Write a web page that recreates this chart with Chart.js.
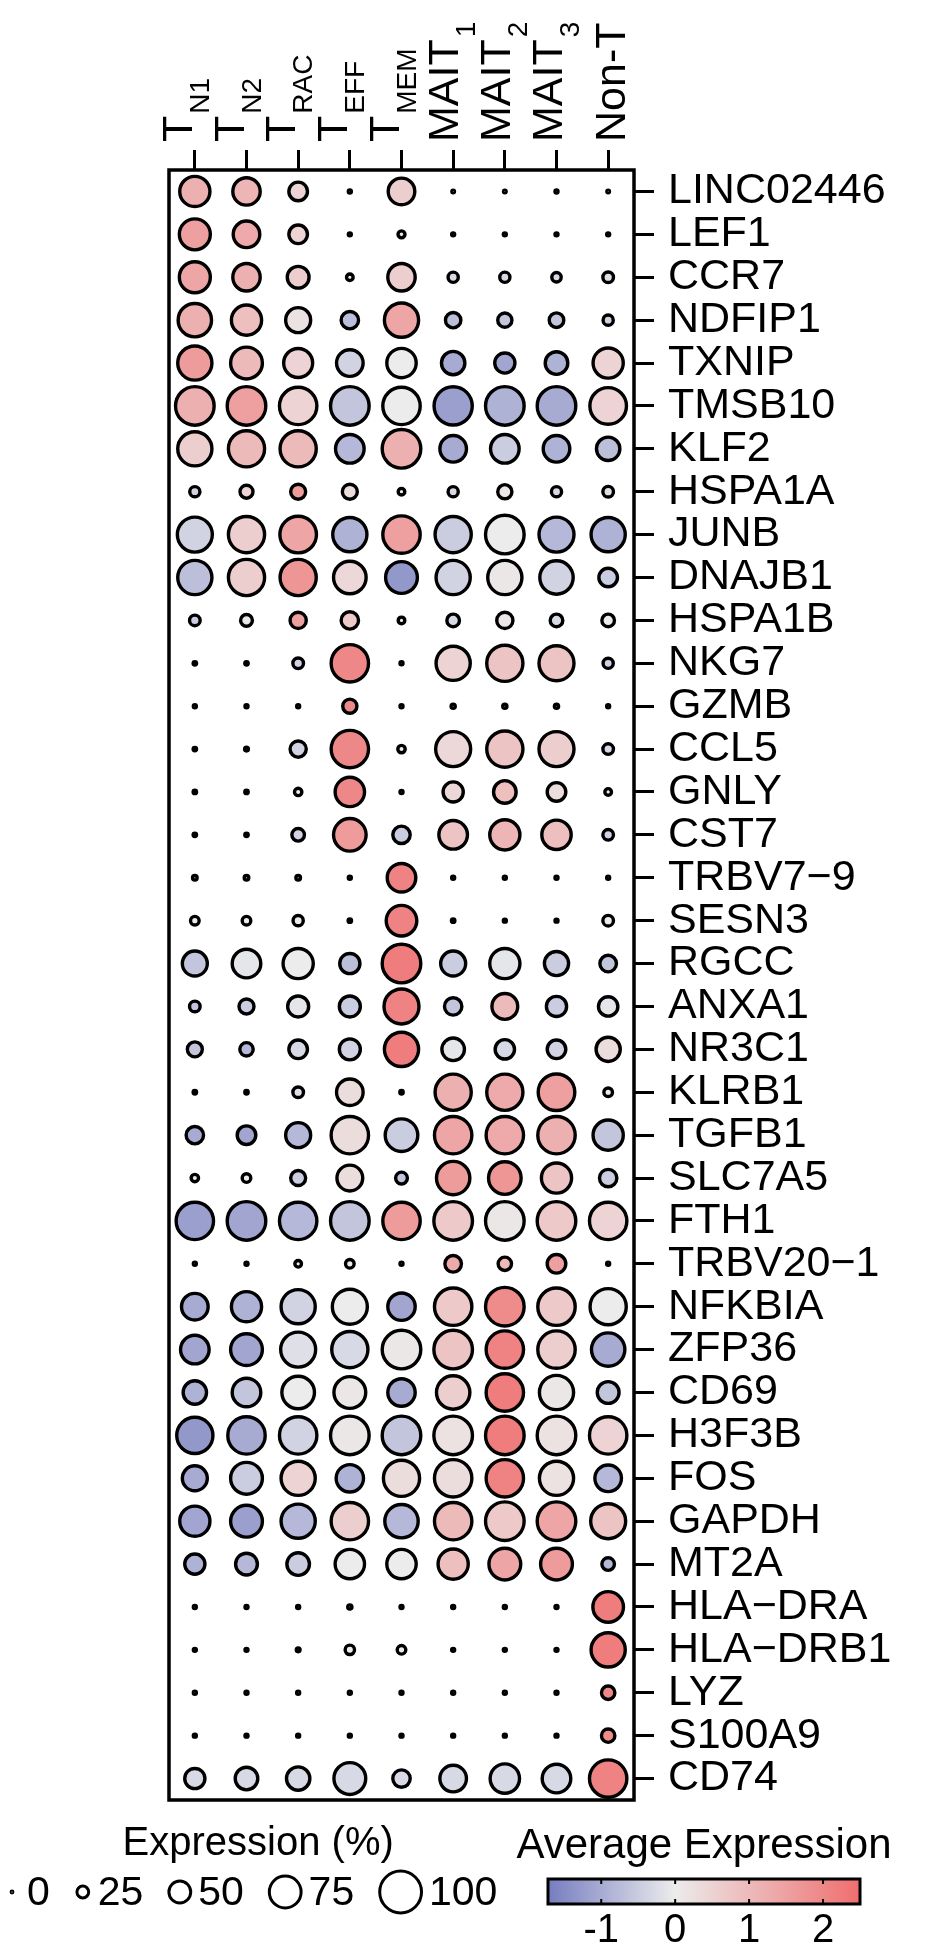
<!DOCTYPE html>
<html>
<head>
<meta charset="utf-8">
<script src="https://cdn.jsdelivr.net/npm/chart.js@4"></script>
<style>
  html, body { margin: 0; padding: 0; background: #fff; }
  #wrap { width: 944px; height: 1957px; }
</style>
</head>
<body>
<div id="wrap"><canvas id="dot-chart" width="944" height="1957"></canvas></div>
<script>
// clusters (x) and genes (y)
const clusters = ['TN1', 'TN2', 'TRAC', 'TEFF', 'TMEM', 'MAIT1', 'MAIT2', 'MAIT3', 'Non-T'];
const clusterMain = ['T', 'T', 'T', 'T', 'T', 'MAIT', 'MAIT', 'MAIT', 'Non-T'];
const clusterSub = ['N1', 'N2', 'RAC', 'EFF', 'MEM', '1', '2', '3', ''];
const genes = ['LINC02446', 'LEF1', 'CCR7', 'NDFIP1', 'TXNIP', 'TMSB10', 'KLF2', 'HSPA1A', 'JUNB', 'DNAJB1',
  'HSPA1B', 'NKG7', 'GZMB', 'CCL5', 'GNLY', 'CST7', 'TRBV7\u22129', 'SESN3', 'RGCC', 'ANXA1', 'NR3C1',
  'KLRB1', 'TGFB1', 'SLC7A5', 'FTH1', 'TRBV20\u22121', 'NFKBIA', 'ZFP36', 'CD69', 'H3F3B', 'FOS',
  'GAPDH', 'MT2A', 'HLA\u2212DRA', 'HLA\u2212DRB1', 'LYZ', 'S100A9', 'CD74'];

// percent of cells expressing, one row per gene, columns in cluster order
const pctExpressed = [
  [71, 64, 42, 3, 62, 2, 2, 3, 2],
  [73, 62, 42, 3, 13, 3, 3, 3, 3],
  [73, 64, 50, 12, 64, 21, 21, 19, 22],
  [79, 71, 58, 39, 81, 34, 31, 32, 21],
  [81, 75, 68, 62, 69, 54, 46, 52, 71],
  [92, 92, 89, 92, 89, 91, 92, 92, 87],
  [81, 86, 86, 67, 92, 62, 67, 62, 54],
  [21, 28, 33, 33, 12, 21, 31, 21, 22],
  [83, 86, 87, 81, 89, 86, 92, 83, 81],
  [81, 86, 86, 77, 75, 81, 81, 79, 42],
  [22, 25, 36, 39, 12, 27, 36, 27, 27],
  [4, 4, 22, 89, 3, 81, 86, 83, 21],
  [3, 3, 3, 31, 3, 6, 6, 6, 3],
  [4, 5, 36, 89, 14, 83, 86, 83, 22],
  [4, 4, 14, 69, 3, 46, 52, 42, 12],
  [4, 4, 27, 77, 39, 67, 71, 69, 22],
  [7, 7, 7, 3, 67, 3, 3, 3, 3],
  [17, 17, 21, 4, 72, 4, 3, 3, 22],
  [58, 67, 71, 46, 92, 58, 71, 56, 37],
  [22, 33, 48, 48, 83, 39, 60, 46, 44],
  [33, 29, 42, 48, 81, 52, 44, 42, 56],
  [4, 4, 22, 62, 4, 86, 86, 87, 17],
  [39, 42, 58, 89, 77, 89, 89, 89, 71],
  [14, 17, 33, 60, 25, 79, 77, 71, 39],
  [89, 92, 89, 92, 89, 92, 92, 92, 89],
  [3, 3, 12, 17, 3, 37, 29, 42, 3],
  [62, 71, 81, 83, 64, 89, 92, 89, 86],
  [67, 75, 83, 86, 92, 92, 89, 89, 79],
  [54, 67, 77, 75, 64, 79, 89, 81, 50],
  [86, 89, 89, 92, 92, 92, 92, 92, 89],
  [58, 75, 81, 64, 86, 89, 89, 81, 62],
  [71, 75, 81, 89, 79, 89, 92, 92, 83],
  [46, 50, 52, 69, 69, 71, 75, 75, 27],
  [3, 3, 3, 6, 3, 3, 3, 3, 72],
  [3, 3, 5, 19, 17, 3, 3, 3, 81],
  [3, 3, 3, 3, 3, 3, 3, 3, 29],
  [3, 3, 3, 3, 3, 3, 3, 3, 29],
  [46, 52, 54, 75, 39, 62, 69, 67, 89]
];

// scaled average expression, same layout
const avgExpression = [
  [1.2, 1.1, 0.5, 0, 0.6, 0, 0, 0, 0],
  [1.5, 1.3, 0.5, 0, 0.2, 0, 0, 0, 0],
  [1.4, 1.2, 0.6, 0, 0.6, -0.3, -0.3, -0.3, -0.2],
  [1.2, 0.9, 0.2, -0.7, 1.4, -0.7, -0.6, -0.6, -0.4],
  [1.6, 1.0, 0.5, -0.4, 0.0, -1.0, -1.1, -0.9, 0.5],
  [1.2, 1.5, 0.5, -0.6, 0.0, -1.2, -0.9, -1.0, 0.5],
  [0.6, 1.0, 1.0, -0.8, 1.2, -1.0, -0.5, -0.9, -0.7],
  [-0.4, 0.5, 1.6, 0.3, 0, -0.3, 0.1, -0.3, -0.2],
  [-0.4, 0.6, 1.4, -0.9, 1.5, -0.5, 0.0, -0.8, -0.9],
  [-0.7, 0.6, 1.7, 0.4, -1.3, -0.4, 0.1, -0.4, -0.5],
  [-0.5, 0.1, 1.5, 0.7, 0, -0.3, 0.1, -0.3, 0.0],
  [0, 0, -0.4, 2.0, 0, 0.5, 0.8, 0.8, -0.4],
  [0, 0, 0, 2.0, 0, 0, 0, 0, 0],
  [0, 0, -0.4, 2.0, 0, 0.4, 0.8, 0.6, -0.3],
  [0, 0, 0, 2.0, 0, 0.4, 0.9, 0.3, 0],
  [0, 0, -0.4, 1.6, -0.5, 0.8, 1.1, 0.9, -0.4],
  [0, 0, 0, 0, 2.1, 0, 0, 0, 0],
  [0, 0, 0, 0, 2.1, 0, 0, 0, 0],
  [-0.6, -0.1, 0.0, -0.7, 2.2, -0.5, -0.1, -0.5, -0.6],
  [-0.6, -0.5, -0.1, -0.5, 2.1, -0.6, 1.0, -0.5, -0.1],
  [-0.6, -0.8, -0.3, -0.4, 2.2, -0.1, -0.3, -0.4, 0.3],
  [0, 0, -0.2, 0.3, 0, 1.2, 1.3, 1.5, 0],
  [-1.0, -1.1, -0.8, 0.3, -0.5, 1.4, 1.3, 1.2, -0.6],
  [0, 0, -0.5, 0.3, -0.6, 1.6, 1.7, 0.8, -0.5],
  [-1.2, -1.1, -0.8, -0.6, 1.6, 0.7, 0.1, 0.7, 0.5],
  [0, 0, 0, 0, 0, 1.3, 1.0, 1.5, 0],
  [-1.0, -0.9, -0.4, 0.0, -1.1, 0.7, 1.9, 0.7, 0.0],
  [-1.1, -1.1, -0.2, -0.3, 0.1, 0.8, 2.1, 0.6, -1.0],
  [-0.9, -0.6, 0.0, 0.1, -1.0, 0.6, 2.2, 0.1, -0.6],
  [-1.3, -1.0, -0.4, 0.1, -0.6, 0.2, 2.2, 0.2, 0.5],
  [-1.0, -0.5, 0.5, -0.9, 0.3, 0.3, 2.1, 0.2, -0.8],
  [-1.1, -1.2, -0.8, 0.6, -0.8, 1.0, 0.7, 1.4, 0.8],
  [-0.9, -0.8, -0.5, 0.0, 0.0, 0.9, 1.4, 1.6, -0.8],
  [0, 0, 0, 0, 0, 0, 0, 0, 2.2],
  [0, 0, 0, 0, 0, 0, 0, 0, 2.2],
  [0, 0, 0, 0, 0, 0, 0, 0, 2.0],
  [0, 0, 0, 0, 0, 0, 0, 0, 1.9],
  [-0.3, -0.3, -0.3, -0.3, -0.3, -0.3, -0.3, -0.3, 2.1]
];

const sizeBreaks = [0, 25, 50, 75, 100];
const colorTicks = [-1, 0, 1, 2];
const colorMin = -1.72, colorMax = 2.5;

const FONT = "'Liberation Sans', Arial, Helvetica, sans-serif";
const LOW = [118, 125, 192], MID = [236, 236, 236], HIGH = [239, 110, 110];

function radiusFor(p) { return 0.9 + 0.2 * p; }

function colorFor(v) {
  let b, t;
  if (v < 0) { b = LOW; t = Math.min(v / colorMin, 1); }
  else { b = HIGH; t = Math.min(v / colorMax, 1); }
  const c = MID.map((x, i) => Math.round(x + (b[i] - x) * t));
  return 'rgb(' + c.join(',') + ')';
}

const points = [];
genes.forEach((g, gi) => {
  clusters.forEach((c, ci) => {
    points.push({ x: c, y: g, r: radiusFor(pctExpressed[gi][ci]), v: avgExpression[gi][ci] });
  });
});

const extras = {
  id: 'extras',
  afterDraw(chart) {
    const ctx = chart.ctx;
    const ca = chart.chartArea;
    ctx.save();
    // panel border
    ctx.lineWidth = 3.5;
    ctx.strokeStyle = '#000';
    ctx.strokeRect(ca.left, ca.top, ca.right - ca.left, ca.bottom - ca.top);

    // rotated column labels with subscripts
    const xs = chart.scales.x;
    ctx.fillStyle = '#000';
    clusterMain.forEach((main, i) => {
      const px = xs.getPixelForValue(i);
      const sub = clusterSub[i];
      const shift = sub ? (main === 'T' ? -3 : 5) : 17;
      ctx.save();
      ctx.translate(px + shift, 142);
      ctx.rotate(-Math.PI / 2);
      ctx.textAlign = 'left';
      ctx.textBaseline = 'alphabetic';
      ctx.font = '43px ' + FONT;
      ctx.fillText(main, 0, 0);
      if (sub) {
        const w = ctx.measureText(main).width;
        ctx.font = '28px ' + FONT;
        ctx.fillText(sub, w + 2, 17);
      }
      ctx.restore();
    });

    // size legend
    ctx.font = '41px ' + FONT;
    ctx.textAlign = 'left';
    ctx.textBaseline = 'alphabetic';
    const start = 3, cy = 1892;
    let cursor = start;
    sizeBreaks.forEach(p => {
      const r = radiusFor(p);
      const half = Math.max(r + 1.5, 9);
      const cx = cursor + half;
      ctx.beginPath();
      ctx.arc(cx, cy, r, 0, Math.PI * 2);
      ctx.fillStyle = '#fff';
      ctx.fill();
      ctx.lineWidth = 3;
      ctx.strokeStyle = '#000';
      ctx.stroke();
      const tx = cx + half + 6;
      ctx.fillStyle = '#000';
      ctx.fillText(String(p), tx, 1905);
      cursor = tx + ctx.measureText(String(p)).width + 24;
    });
    const legendEnd = cursor - 24;
    ctx.font = '40px ' + FONT;
    ctx.textAlign = 'center';
    ctx.fillText('Expression (%)', (start + legendEnd) / 2 + 8, 1855);

    // colour bar
    const x0 = 548, x1 = 860, y0 = 1879, y1 = 1904;
    for (let x = x0; x < x1; x++) {
      const v = colorMin + (x + 0.5 - x0) / (x1 - x0) * (colorMax - colorMin);
      ctx.fillStyle = colorFor(v);
      ctx.fillRect(x, y0, 1, y1 - y0);
    }
    ctx.lineWidth = 3;
    ctx.strokeStyle = '#000';
    ctx.strokeRect(x0, y0, x1 - x0, y1 - y0);
    ctx.font = '40px ' + FONT;
    ctx.fillStyle = '#000';
    ctx.textAlign = 'center';
    colorTicks.forEach(v => {
      const x = x0 + (v - colorMin) / (colorMax - colorMin) * (x1 - x0);
      ctx.lineWidth = 2;
      ctx.beginPath();
      ctx.moveTo(x, y0); ctx.lineTo(x, y0 + 5);
      ctx.moveTo(x, y1); ctx.lineTo(x, y1 - 5);
      ctx.stroke();
      ctx.fillText(v < 0 ? '-' + Math.abs(v) : String(v), x, 1942);
    });
    ctx.font = '42px ' + FONT;
    ctx.fillText('Average Expression', (x0 + x1) / 2, 1858);
    ctx.restore();
  }
};

Chart.defaults.font.family = FONT;
Chart.defaults.color = '#000';

new Chart(document.getElementById('dot-chart'), {
  type: 'bubble',
  data: {
    datasets: [{
      data: points,
      backgroundColor: ctx => colorFor(ctx.raw ? ctx.raw.v : 0),
      borderColor: '#000',
      borderWidth: 3.4,
      hoverBorderWidth: 3.4
    }]
  },
  options: {
    responsive: false,
    devicePixelRatio: 1,
    animation: false,
    events: [],
    layout: { padding: { left: 169, right: 0, top: 150, bottom: 157 } },
    plugins: { legend: { display: false }, tooltip: { enabled: false } },
    scales: {
      x: {
        type: 'category',
        labels: clusters,
        position: 'top',
        offset: true,
        grid: { display: true, drawOnChartArea: false, drawTicks: true, tickLength: 20, color: '#000', lineWidth: 3, offset: false },
        border: { display: false },
        ticks: { display: false, autoSkip: false },
        afterFit: s => { s.height = 20; }
      },
      y: {
        type: 'category',
        labels: genes,
        position: 'right',
        offset: true,
        grid: { display: true, drawOnChartArea: false, drawTicks: true, tickLength: 20, color: '#000', lineWidth: 3, offset: false },
        border: { display: false },
        ticks: { autoSkip: false, padding: 14, color: '#000', font: { size: 43, family: FONT } },
        afterFit: s => { s.width = 310; }
      }
    }
  },
  plugins: [extras]
});
</script>
</body>
</html>
